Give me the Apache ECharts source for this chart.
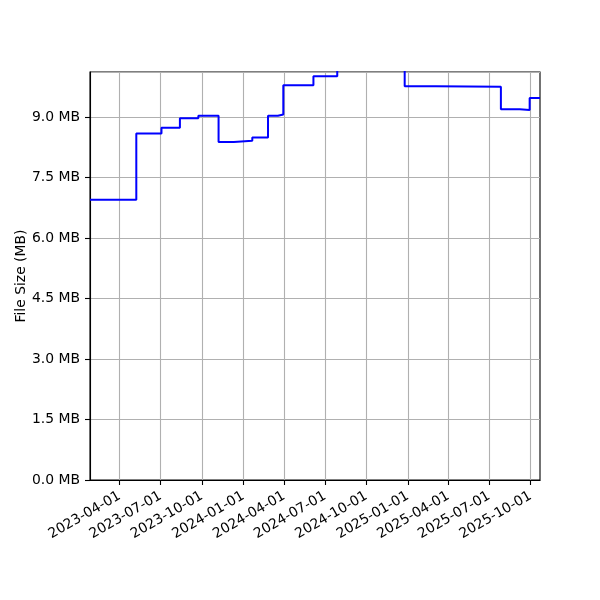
<!DOCTYPE html>
<html>
<head>
<meta charset="utf-8">
<script src="https://cdn.jsdelivr.net/npm/echarts@6/dist/echarts.min.js"></script>
<style>
html,body{margin:0;padding:0;background:#fff;}
#chart{width:600px;height:600px;}
</style>
</head>
<body>
<div id="chart"></div>
<script>
// Step dates (steps-post) and file sizes in MB
const dates = [
  '2023-01-25','2023-05-08','2023-07-03','2023-08-13','2023-09-23','2023-11-07',
  '2023-12-11','2024-01-21','2024-02-25','2024-03-18','2024-03-30','2024-06-05',
  '2024-07-28','2024-12-25','2025-03-04','2025-07-27','2025-09-07','2025-09-29',
  '2025-10-22'
];
const sizesMB = [
  6.95, 8.59, 8.735, 8.97, 9.03, 8.38,
  8.41, 8.49, 9.03, 9.06, 9.785, 10.01,
  10.3, 9.76, 9.75, 9.19, 9.17, 9.47,
  9.47
];
const xTickDates = [
  '2023-04-01','2023-07-01','2023-10-01','2024-01-01','2024-04-01','2024-07-01',
  '2024-10-01','2025-01-01','2025-04-01','2025-07-01','2025-10-01'
];
const xMin = '2023-01-25';
const xMax = '2025-10-22';
const yMax = 10.115;
const yStep = 1.5;

function ts(s){ const p = s.split('-').map(Number); return Date.UTC(p[0], p[1]-1, p[2]); }
function pad(n){ return (n<10?'0':'')+n; }
function fmtDate(v){ const d = new Date(Math.round(v)); return d.getUTCFullYear()+'-'+pad(d.getUTCMonth()+1)+'-'+pad(d.getUTCDate()); }

const seriesData = dates.map((d,i)=>[ts(d), sizesMB[i]]);
const tickVals = xTickDates.map(ts);

const FONT = 'DejaVu Sans';
const FS = 13.9;

const chart = echarts.init(document.getElementById('chart'), null, {renderer:'canvas'});
chart.setOption({
  backgroundColor: '#ffffff',
  animation: false,
  grid: {left: 90, right: 60, top: 72, bottom: 120, show: true, borderColor: '#000', borderWidth: 1.1, backgroundColor: 'transparent'},
  xAxis: {
    type: 'value',
    min: ts(xMin),
    max: ts(xMax),
    axisLine: {show: true, onZero: false, lineStyle: {color: '#000', width: 1.1}},
    axisTick: {show: true, length: 5, lineStyle: {color: '#000', width: 1.1}, customValues: tickVals},
    axisLabel: {
      customValues: tickVals,
      rotate: 30,
      margin: 15,
      color: '#000',
      fontFamily: FONT,
      fontSize: FS,
      formatter: function(v){ return fmtDate(v); },
      hideOverlap: false
    },
    splitLine: {show: true, lineStyle: {color: '#b0b0b0', width: 1.1}}
  },
  yAxis: {
    type: 'value',
    min: 0,
    max: yMax,
    interval: yStep,
    name: 'File Size (MB)',
    nameLocation: 'middle',
    nameRotate: 90,
    nameGap: 62,
    nameMoveOverlap: false,
    nameTextStyle: {color: '#000', fontFamily: FONT, fontSize: FS},
    axisLine: {show: true, lineStyle: {color: '#000', width: 1.1}},
    axisTick: {show: true, length: 5, lineStyle: {color: '#000', width: 1.1}},
    axisLabel: {
      margin: 10,
      color: '#000',
      fontFamily: FONT,
      fontSize: FS,
      showMaxLabel: false,
      formatter: function(v){ return v.toFixed(1) + ' MB'; }
    },
    splitLine: {show: true, lineStyle: {color: '#b0b0b0', width: 1.1}}
  },
  series: [{
    type: 'line',
    step: 'end',
    data: seriesData,
    showSymbol: false,
    symbol: 'none',
    clip: true,
    lineStyle: {color: '#0000ff', width: 2},
    itemStyle: {color: '#0000ff'}
  }]
});
</script>
</body>
</html>
